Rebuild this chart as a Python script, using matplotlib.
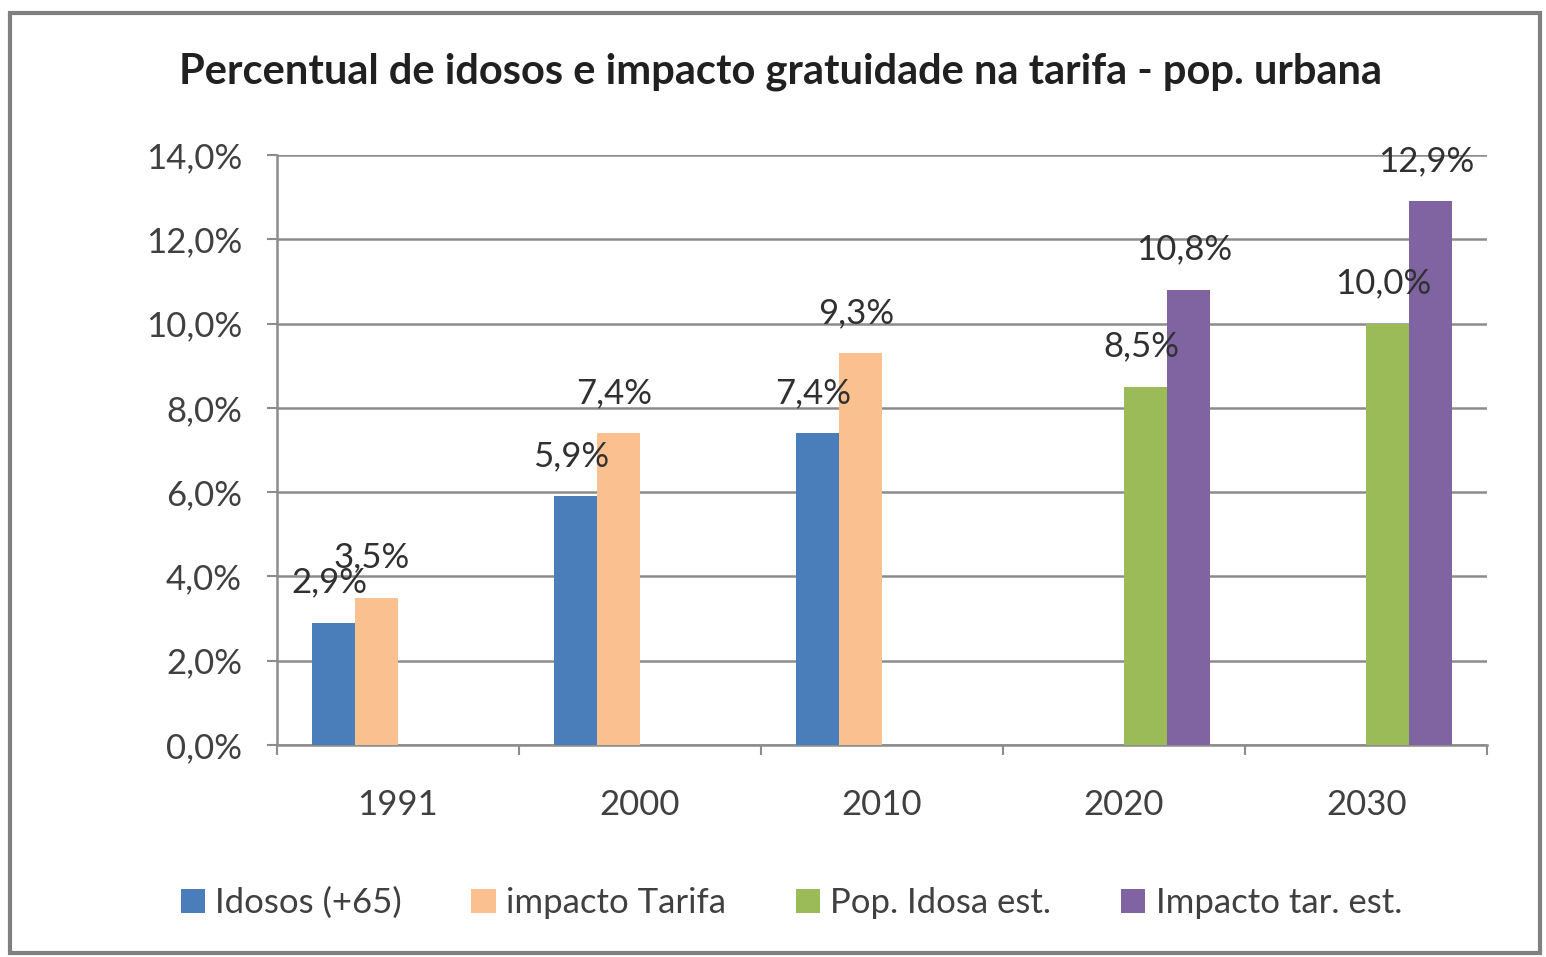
import numpy as np
import matplotlib.pyplot as plt
from matplotlib.patches import Rectangle

plt.rcParams['font.family'] = ['Lato', 'DejaVu Sans']

anos = ['1991', '2000', '2010', '2020', '2030']
idosos = [2.9, 5.9, 7.4, np.nan, np.nan]
impacto_tarifa = [3.5, 7.4, 9.3, np.nan, np.nan]
pop_idosa_est = [np.nan, np.nan, np.nan, 8.5, 10.0]
impacto_tar_est = [np.nan, np.nan, np.nan, 10.8, 12.9]

series = [
    ('Idosos (+65)', idosos, '#4A7EBB'),
    ('impacto Tarifa', impacto_tarifa, '#FAC090'),
    ('Pop. Idosa est.', pop_idosa_est, '#9BBB59'),
    ('Impacto tar. est.', impacto_tar_est, '#8064A2'),
]

txt = '#404040'
grid = '#8C8C8C'

fig = plt.figure(figsize=(15.46, 9.57), dpi=100)
ax = fig.add_axes([0.179, 0.2215, 0.783, 0.6165])

x = np.arange(len(anos))
w = 0.178
for i, (nome, vals, cor) in enumerate(series):
    pos = x + (i - 1.5) * w
    ax.bar(pos, vals, width=w, color=cor, label=nome, zorder=3)
    for px, v in zip(pos, vals):
        if np.isnan(v):
            continue
        ax.annotate(f'{v:.1f}%'.replace('.', ','), (px, v), xytext=(-3, 29),
                    textcoords='offset points', ha='center', va='center',
                    fontsize=25, color='#303030', zorder=4)

ax.set_xlim(-0.5, 4.5)
ax.set_ylim(0, 14)
ax.set_yticks(np.arange(0, 15, 2))
ax.set_yticklabels([f'{t:.1f}%'.replace('.', ',') for t in np.arange(0, 15, 2)])
ax.yaxis.grid(True, color=grid, linewidth=1.8, zorder=0)

ax.set_xticks(x)
ax.set_xticklabels(anos)
ax.set_xticks(np.arange(-0.5, 5, 1), minor=True)
ax.tick_params(axis='x', which='major', length=0, pad=32, labelsize=25, labelcolor=txt)
ax.tick_params(axis='x', which='minor', length=7, width=1.5, color=grid, direction='out')
ax.tick_params(axis='y', length=7, width=1.5, color=grid, pad=18, labelsize=25, labelcolor=txt)

for s in ['top', 'right']:
    ax.spines[s].set_visible(False)
for s in ['left', 'bottom']:
    ax.spines[s].set_color(grid)
    ax.spines[s].set_linewidth(1.8)

fig.text(0.505, 0.925, 'Percentual de idosos e impacto gratuidade na tarifa - pop. urbana',
         ha='center', va='center', fontsize=30, fontweight='bold', color='#202020')

ax.legend(loc='center', bbox_to_anchor=(0.425, -0.268), ncol=4, frameon=False,
          fontsize=25, labelcolor=txt, handlelength=0.7, handleheight=0.7,
          handletextpad=0.3, columnspacing=2.0)

fig.patches.append(Rectangle((0.0065, 0.004), 0.9895, 0.982, transform=fig.transFigure,
                             fill=False, edgecolor='#808080', linewidth=3))

fig.savefig('out.png', dpi=100)
